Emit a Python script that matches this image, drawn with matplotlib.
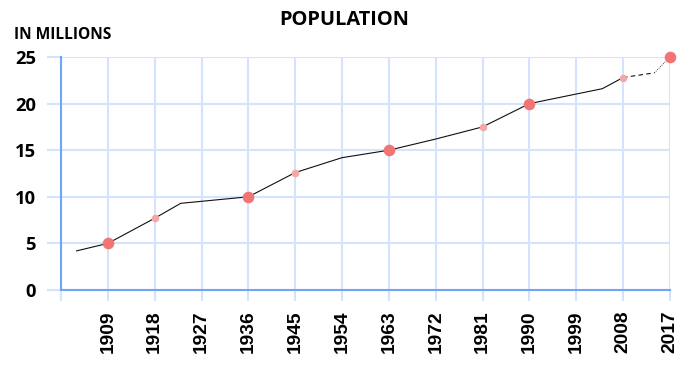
import matplotlib
matplotlib.use("Agg")
import matplotlib.pyplot as plt

# data
years_solid = [1903, 1909, 1918, 1923, 1936, 1945, 1954, 1963, 1972, 1981, 1990, 2004, 2008]
values_solid = [4.2, 5.0, 7.7, 9.3, 10.0, 12.6, 14.2, 15.0, 16.2, 17.5, 20.0, 21.6, 22.8]
years_proj = [2008, 2014, 2017]
values_proj = [22.8, 23.3, 25.0]
major_years = [1909, 1936, 1963, 1990, 2017]
major_values = [5.0, 10.0, 15.0, 20.0, 25.0]
minor_years = [1918, 1945, 1981, 2008]
minor_values = [7.7, 12.6, 17.5, 22.8]
xticks = [1900, 1909, 1918, 1927, 1936, 1945, 1954, 1963, 1972, 1981, 1990, 1999, 2008, 2017]
xticklabels = [""] + [str(y) for y in xticks[1:]]
yticks = [0, 5, 10, 15, 20, 25]

grid_c = "#d4e4fc"
spine_c = "#6ea6f7"

fig = plt.figure(figsize=(6.87, 3.65), dpi=100)
ax = fig.add_axes([61/687, 1-290/365, (670-61)/687, (290-57)/365])
ax.set_xlim(1900, 2017)
ax.set_ylim(0, 25)

ax.set_xticks(xticks)
ax.set_xticklabels(xticklabels, rotation=90, fontsize=13.8, family="Liberation Sans", fontweight="bold")
ax.set_yticks(yticks)
ax.set_yticklabels([str(v) for v in yticks], fontsize=13.2, family="Open Sans", fontweight="bold")
ax.tick_params(axis="y", length=10, width=1.5, color=grid_c, pad=8)
ax.tick_params(axis="x", length=8.2, width=1.5, color=grid_c, pad=6.5)
ax.grid(True, color=grid_c, linewidth=1.5)
ax.set_axisbelow(True)
for s in ["top", "right"]:
    ax.spines[s].set_visible(False)
for s in ["left", "bottom"]:
    ax.spines[s].set_color(spine_c)
    ax.spines[s].set_linewidth(1.5)
    ax.spines[s].set_zorder(1)

ax.plot(years_solid, values_solid, color="#111111", lw=0.8, zorder=3, clip_on=False)
ax.plot(years_proj[:2], values_proj[:2], color="#111111", lw=0.8, ls=(0, (4, 3)), zorder=3, clip_on=False)
ax.plot(years_proj[1:], values_proj[1:], color="#111111", lw=0.6, ls=(0, (1, 1.5)), zorder=3, clip_on=False)
ax.scatter(minor_years, minor_values, s=30, color="#f4a7a7", zorder=4, clip_on=False, linewidths=0)
ax.scatter(major_years, major_values, s=70, color="#f27474", zorder=5, clip_on=False, linewidths=0)

fig.text(344/687, 1-20/365, "POPULATION", ha="center", va="center", fontsize=14.4, fontweight="bold", family="Open Sans")
fig.text(14/687, 1-35/365, "IN MILLIONS", ha="left", va="center", fontsize=11.2, fontweight="bold", family="Open Sans")

fig.savefig("out.png", dpi=100)
